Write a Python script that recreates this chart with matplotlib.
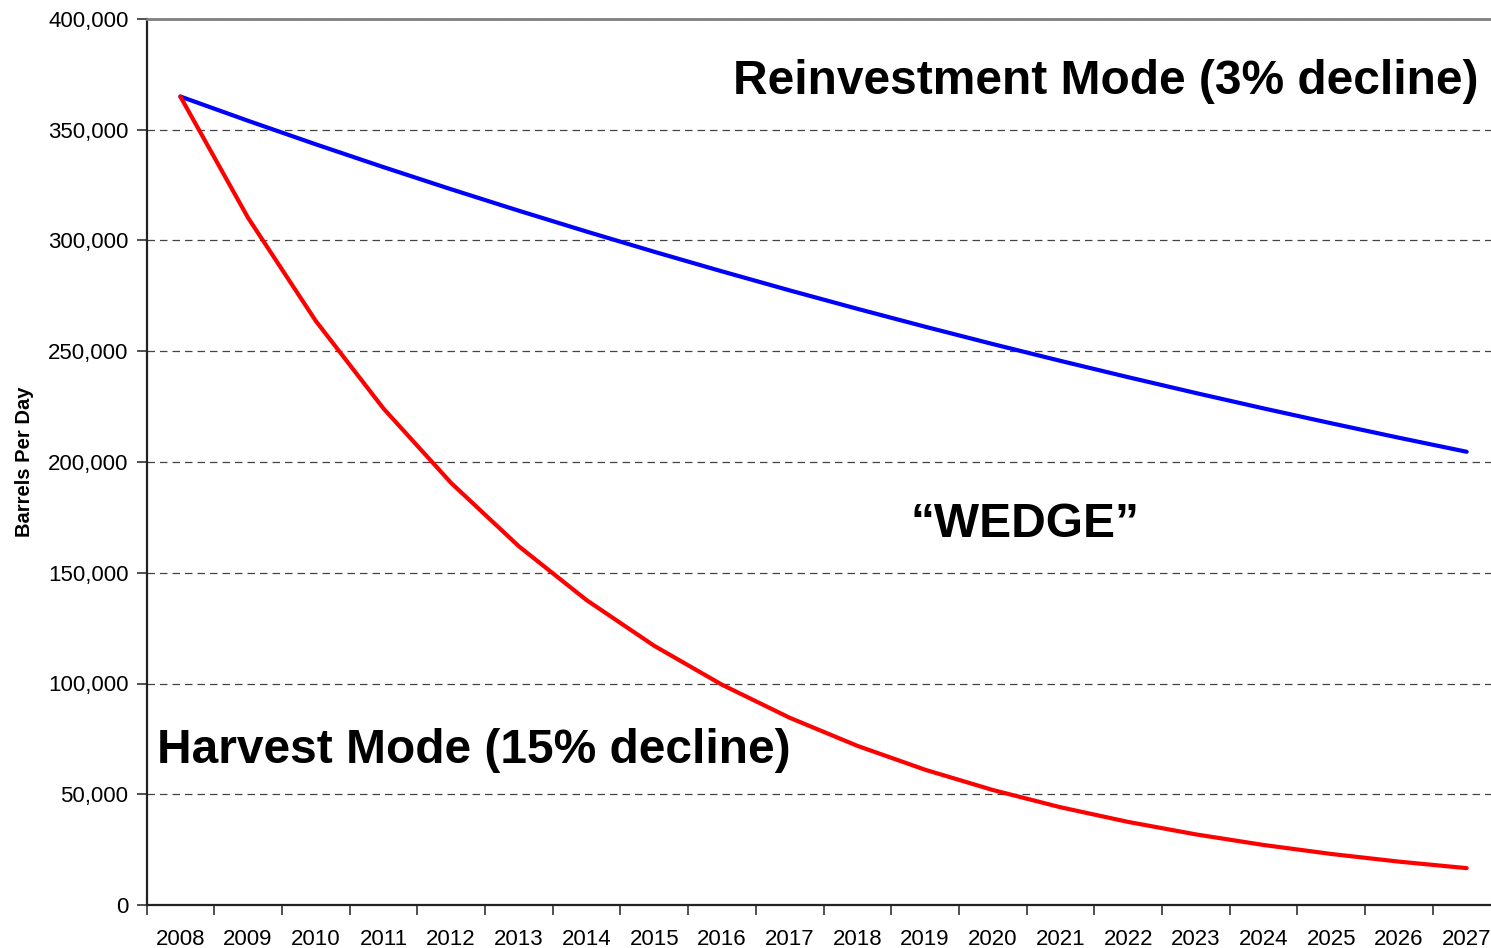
import numpy as np
import matplotlib.pyplot as plt
from matplotlib.ticker import FuncFormatter, FixedLocator

plt.rcParams['font.family'] = ['Liberation Sans', 'DejaVu Sans']

years = [str(y) for y in range(2008, 2028)]
reinvest = [365000, 354050, 343430, 333130, 323130, 313440, 304040, 294910,
            286070, 277480, 269160, 261090, 253250, 245660, 238290, 231140,
            224200, 217480, 210950, 204620]
harvest = [365000, 310250, 263710, 224160, 190530, 161950, 137660, 117010,
           99460, 84540, 71860, 61080, 51920, 44130, 37510, 31880,
           27100, 23040, 19580, 16640]

W, H = 1491, 948
fig = plt.figure(figsize=(W / 100, H / 100), dpi=100)
cat_w = 67.7
left, right = 146.5, 146.5 + 20 * cat_w
ax = fig.add_axes([left / W, 43 / H, (right - left) / W, (905 - 19) / H])

x = np.arange(len(years))
ax.plot(x, reinvest, color='#0000ff', lw=3, solid_capstyle='round', zorder=3)
ax.plot(x, harvest, color='#ff0000', lw=3, solid_capstyle='round', zorder=3)

ax.set_xlim(-0.5, len(years) - 0.5)
ax.set_ylim(0, 400000)
ax.set_yticks(np.arange(0, 400001, 50000))
ax.yaxis.set_major_formatter(FuncFormatter(lambda v, p: f'{int(v):,}'))
ax.yaxis.grid(True, linestyle=(0, (6, 4)), color='#444444', lw=0.9)
ax.set_axisbelow(True)

ax.xaxis.set_major_locator(FixedLocator(np.arange(-0.5, len(years), 1)))
ax.xaxis.set_major_formatter(FuncFormatter(lambda v, p: ''))
ax.xaxis.set_minor_locator(FixedLocator(x))
ax.set_xticklabels(years, minor=True)
ax.tick_params(axis='x', which='minor', length=0, pad=17, labelsize=16)
ax.tick_params(axis='x', which='major', length=7, width=1.2, color='#333333')
ax.tick_params(axis='y', length=7, width=1.2, color='#333333', labelsize=16, pad=6)

for s in ['left', 'bottom']:
    ax.spines[s].set_color('#222222')
    ax.spines[s].set_linewidth(1.6)
ax.spines['top'].set_color('#808080')
ax.spines['top'].set_linewidth(2)
ax.spines['right'].set_visible(False)

ax.set_ylabel('Barrels Per Day', fontsize=14.5, fontweight='bold')
ax.yaxis.set_label_coords(-(147 - 34) / (right - left), 0.5)

ax.text(19.17, 372000, 'Reinvestment Mode (3% decline)', fontsize=34.5,
        fontweight='bold', ha='right', va='center')
ax.text(-0.35, 69700, 'Harvest Mode (15% decline)', fontsize=34.5,
        fontweight='bold', ha='left', va='center')
ax.text(12.48, 172000, '\u201cWEDGE\u201d', fontsize=34.5,
        fontweight='bold', ha='center', va='center')

fig.savefig('out.png', dpi=100)
